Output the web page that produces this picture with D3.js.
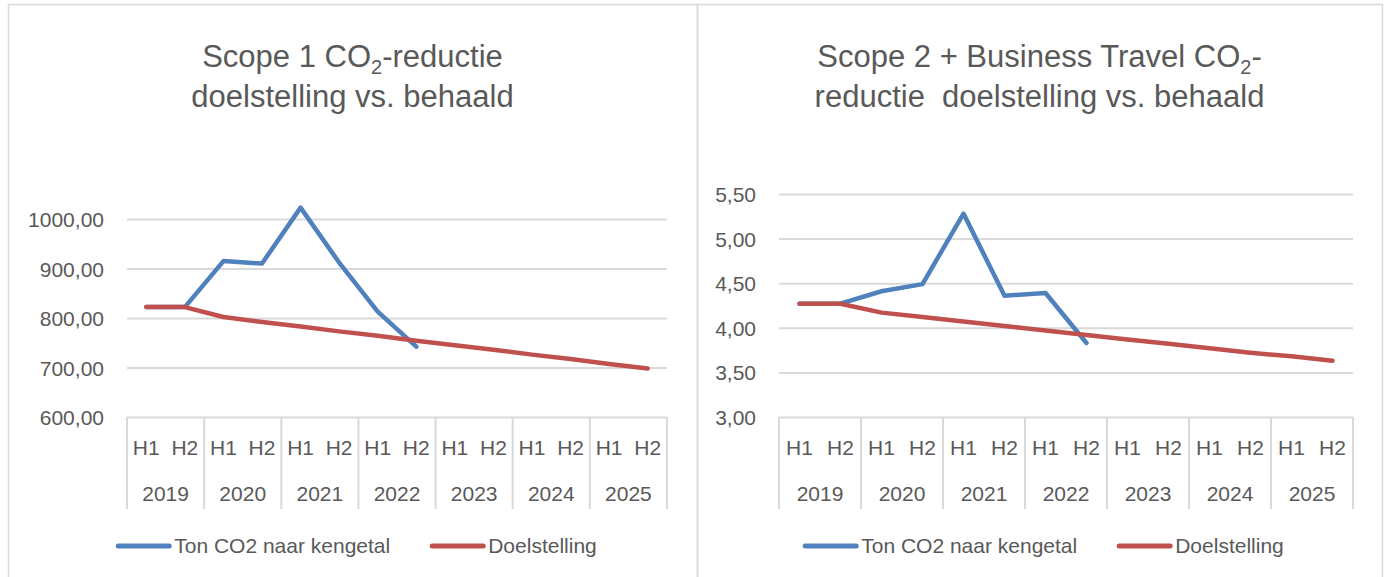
<!DOCTYPE html>
<html>
<head>
<meta charset="utf-8">
<script src="https://cdn.jsdelivr.net/npm/d3@7"></script>
<style>
  body { margin: 0; background: #fff; }
  svg { display: block; font-family: 'Liberation Sans', Arial, sans-serif; }
</style>
</head>
<body>
<svg id="charts" width="1389" height="577"></svg>
<script>
// categories
const years = ['2019', '2020', '2021', '2022', '2023', '2024', '2025'];
const halves = ['H1', 'H2'];

// scope 1 (ton CO2), one value per half year, null = no data yet
const scope1Actual = [822, 822, 915, 910, 1023, 912, 813, 742, null, null, null, null, null, null];
const scope1Target = [822, 822, 802, 792, 783, 773, 764, 754, 745, 736, 726, 717, 707, 698];
const scope1Ticks = [600, 700, 800, 900, 1000];

// scope 2 + business travel
const scope2Actual = [4.27, 4.27, 4.41, 4.49, 5.28, 4.36, 4.39, 3.83, null, null, null, null, null, null];
const scope2Target = [4.27, 4.27, 4.17, 4.12, 4.07, 4.02, 3.97, 3.92, 3.87, 3.82, 3.77, 3.72, 3.68, 3.63];
const scope2Ticks = [3, 3.5, 4, 4.5, 5, 5.5];

const seriesNames = ['Ton CO2 naar kengetal', 'Doelstelling'];
const seriesColors = ['#4F81BD', '#C0504D'];

const TEXT = '#595959';
const GRID = '#D9D9D9';

// comma as decimal sign, no thousands grouping
const fmt = d3.formatLocale({ decimal: ',', thousands: '.', grouping: [3], currency: ['€', ''] }).format('.2f');

class HalfYearChart {
  constructor(svg, opts) {
    this.svg = svg;
    this.opts = opts;
    this.DIMENSIONS = {
      frame_left: opts.frameLeft,
      frame_right: opts.frameRight,
      plot_left: opts.plotLeft,
      plot_right: opts.plotRight,
      plot_top: opts.plotTop,
      plot_bottom: 417,
      cat_bottom: 509
    };
    const D = this.DIMENSIONS;
    this.g = svg.append('g');

    this.categories = years.flatMap(y => halves.map(h => y + ' ' + h));
    this.xScale = d3.scaleBand().domain(this.categories).range([D.plot_left, D.plot_right]);
    this.yearScale = d3.scaleBand().domain(years).range([D.plot_left, D.plot_right]);
    this.yScale = d3.scaleLinear()
      .domain([opts.ticks[0], opts.ticks[opts.ticks.length - 1]])
      .range([D.plot_bottom, D.plot_top]);

    this.drawFrame();
    this.drawTitle();
    this.drawAxes();
    this.drawLines();
    this.drawLegend();
  }

  drawFrame() {
    const D = this.DIMENSIONS;
    this.g.append('rect')
      .attr('x', D.frame_left + 0.5)
      .attr('y', 4.5)
      .attr('width', D.frame_right - D.frame_left)
      .attr('height', 620)
      .attr('fill', 'none')
      .attr('stroke', GRID)
      .attr('stroke-width', 1.5);
  }

  drawTitle() {
    const D = this.DIMENSIONS;
    const cx = (D.frame_left + D.frame_right) / 2;
    this.opts.title.forEach((line, i) => {
      const text = this.g.append('text')
        .attr('x', cx)
        .attr('y', 67 + i * 40)
        .attr('text-anchor', 'middle')
        .attr('font-size', 31)
        .attr('fill', TEXT);
      line.forEach(seg => {
        const ts = text.append('tspan').text(seg.t);
        if (seg.sub) {
          ts.attr('font-size', 20).attr('dy', 7);
        } else if (seg.after) {
          ts.attr('dy', -7);
        }
      });
    });
  }

  drawAxes() {
    const D = this.DIMENSIONS;
    // value axis + gridlines
    const yAxis = this.g.append('g')
      .attr('transform', `translate(${D.plot_left},0)`)
      .call(d3.axisLeft(this.yScale)
        .tickValues(this.opts.ticks)
        .tickSize(-(D.plot_right - D.plot_left))
        .tickPadding(23)
        .tickFormat(fmt));
    yAxis.select('.domain').remove();
    yAxis.selectAll('.tick line').attr('stroke', GRID).attr('stroke-width', 2);
    yAxis.selectAll('.tick text')
      .attr('fill', TEXT)
      .attr('font-size', 21)
      .attr('font-family', 'Liberation Sans, Arial, sans-serif')
      .attr('dy', '0.36em');

    // category axis: separators between years
    const seps = years.map(y => this.yearScale(y)).concat([D.plot_right]);
    this.g.append('g')
      .selectAll('line')
      .data(seps)
      .join('line')
      .attr('x1', d => d)
      .attr('x2', d => d)
      .attr('y1', D.plot_bottom)
      .attr('y2', D.cat_bottom)
      .attr('stroke', GRID)
      .attr('stroke-width', 2);

    // H1 / H2 labels
    this.g.append('g')
      .selectAll('text')
      .data(this.categories)
      .join('text')
      .attr('x', d => this.xScale(d) + this.xScale.bandwidth() / 2)
      .attr('y', 455)
      .attr('text-anchor', 'middle')
      .attr('font-size', 21)
      .attr('fill', TEXT)
      .text(d => d.split(' ')[1]);

    // year labels
    this.g.append('g')
      .selectAll('text')
      .data(years)
      .join('text')
      .attr('x', d => this.yearScale(d) + this.yearScale.bandwidth() / 2)
      .attr('y', 501)
      .attr('text-anchor', 'middle')
      .attr('font-size', 21)
      .attr('fill', TEXT)
      .text(d => d);
  }

  drawLines() {
    const lineGenerator = d3.line()
      .defined(d => d.v !== null)
      .x(d => this.xScale(d.c) + this.xScale.bandwidth() / 2)
      .y(d => this.yScale(d.v));

    [this.opts.actual, this.opts.target].forEach((values, i) => {
      this.g.append('path')
        .datum(values.map((v, j) => ({ c: this.categories[j], v: v })))
        .attr('fill', 'none')
        .attr('stroke', seriesColors[i])
        .attr('stroke-width', 4.5)
        .attr('stroke-linecap', 'round')
        .attr('stroke-linejoin', 'round')
        .attr('d', lineGenerator);
    });
  }

  drawLegend() {
    const D = this.DIMENSIONS;
    const lg = this.g.append('g');
    const swatch = 55;
    let x = 0;
    seriesNames.forEach((name, i) => {
      lg.append('line')
        .attr('x1', x + 2)
        .attr('x2', x + swatch - 2)
        .attr('y1', 546)
        .attr('y2', 546)
        .attr('stroke', seriesColors[i])
        .attr('stroke-width', 5)
        .attr('stroke-linecap', 'round');
      const t = lg.append('text')
        .attr('x', x + swatch + 3)
        .attr('y', 553)
        .attr('font-size', 21)
        .attr('fill', TEXT)
        .text(name);
      x += swatch + 3 + t.node().getComputedTextLength() + 40;
    });
    const total = x - 40;
    const cx = (D.frame_left + D.frame_right) / 2 + 4;
    lg.attr('transform', `translate(${cx - total / 2},0)`);
  }
}

const svg = d3.select('#charts');
svg.append('rect').attr('width', 1389).attr('height', 577).attr('fill', '#fff');

new HalfYearChart(svg, {
  frameLeft: 8,
  frameRight: 697,
  plotLeft: 127,
  plotRight: 667,
  plotTop: 219,
  ticks: scope1Ticks,
  actual: scope1Actual,
  target: scope1Target,
  title: [
    [{ t: 'Scope 1 CO' }, { t: '2', sub: true }, { t: '-reductie', after: true }],
    [{ t: 'doelstelling vs. behaald' }]
  ]
});

new HalfYearChart(svg, {
  frameLeft: 697,
  frameRight: 1382,
  plotLeft: 779,
  plotRight: 1353,
  plotTop: 194,
  ticks: scope2Ticks,
  actual: scope2Actual,
  target: scope2Target,
  title: [
    [{ t: 'Scope 2 + Business Travel CO' }, { t: '2', sub: true }, { t: '-', after: true }],
    [{ t: 'reductie\u00a0 doelstelling vs. behaald' }]
  ]
});
</script>
</body>
</html>
